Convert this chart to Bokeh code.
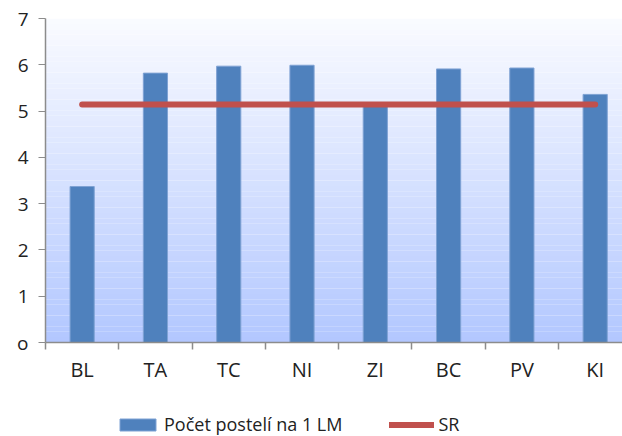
from bokeh.plotting import figure
from bokeh.layouts import column
from bokeh.models import FixedTicker, Range1d, Legend, LegendItem, ColumnDataSource
from bokeh.embed import file_html
from bokeh.resources import INLINE

categories = ["BL", "TA", "TC", "NI", "ZI", "BC", "PV", "KI"]
beds_per_lm = [3.37, 5.82, 5.97, 5.99, 5.12, 5.91, 5.93, 5.36]
sr_value = 5.14
y_ticks = [0, 1, 2, 3, 4, 5, 6, 7]
series_names = ["Počet postelí na 1 LM", "SR"]

FONT = "Open Sans"
BAR_COLOR = "#4f81bd"
BAR_EDGE = "#7fa2d4"
SR_COLOR = "#c0504d"
n = len(categories)
FW = 577
x_end = FW / 73.29

p = figure(frame_width=FW, frame_height=324, output_backend="svg", toolbar_location=None,
           x_range=Range1d(0, x_end), y_range=Range1d(0, 7),
           min_border_left=45, min_border_top=18, min_border_right=0, min_border_bottom=48)
p.outline_line_color = None
p.background_fill_color = "white"
p.border_fill_color = "white"

# background gradient bands
nb = 60
top_c = (250, 251, 255)
bot_c = (178, 199, 255)
bands_b, bands_t, cols = [], [], []
for i in range(nb):
    f = (i + 0.5) / nb
    c = tuple(int(round(bot_c[k] + (top_c[k] - bot_c[k]) * f)) for k in range(3))
    bands_b.append(7 * i / nb)
    bands_t.append(7 * (i + 1) / nb + 0.001)
    cols.append("#%02x%02x%02x" % c)
p.quad(left=0, right=x_end, bottom=bands_b, top=bands_t, fill_color=cols, line_color=None)

p.xgrid.visible = False
p.ygrid.grid_line_color = "#8c8c8c"
p.ygrid.grid_line_width = 1
p.ygrid.ticker = FixedTicker(ticks=y_ticks)
p.ygrid.level = "image"

xs = [i + 0.5 for i in range(n)]
src = ColumnDataSource(dict(x=xs, top=beds_per_lm))
sr_src = ColumnDataSource(dict(x=[xs[0], xs[-1]], y=[sr_value, sr_value]))
p.vbar(x="x", top="top", width=0.33, bottom=0, source=src,
       fill_color=BAR_COLOR, line_color=BAR_EDGE, line_width=1)
p.line(x="x", y="y", source=sr_src, line_color=SR_COLOR, line_width=6, line_cap="round")

# axes
p.yaxis.ticker = FixedTicker(ticks=y_ticks)
p.yaxis.axis_line_color = "#8c8c8c"
p.yaxis.axis_line_width = 1.5
p.yaxis.major_tick_line_color = "#8c8c8c"
p.yaxis.major_tick_out = 7
p.yaxis.major_tick_in = 0
p.yaxis.minor_tick_line_color = None
p.yaxis.major_label_text_font = FONT
p.yaxis.major_label_text_font_size = "19px"
p.yaxis.major_label_text_color = "#222222"
p.yaxis.major_label_standoff = 10
p.yaxis.major_label_overrides = {0: "o"}

p.xaxis.ticker = FixedTicker(ticks=xs, minor_ticks=list(range(n + 1)))
p.xaxis.major_label_overrides = {x: c for x, c in zip(xs, categories)}
p.xaxis.axis_line_color = "#8c8c8c"
p.xaxis.axis_line_width = 1.5
p.xaxis.major_tick_line_color = None
p.xaxis.major_tick_out = 7
p.xaxis.major_tick_in = 0
p.xaxis.minor_tick_line_color = "#8c8c8c"
p.xaxis.minor_tick_line_width = 1.5
p.xaxis.minor_tick_out = 7
p.xaxis.minor_tick_in = 0
p.xaxis.major_label_text_font = FONT
p.xaxis.major_label_text_font_size = "20px"
p.xaxis.major_label_text_color = "#222222"
p.xaxis.major_label_standoff = 6

# legend strip below the chart (same data sources, ranges chosen so nothing is drawn in the strip)
q = figure(width=622, height=46, output_backend="svg", toolbar_location=None,
           x_range=Range1d(-20, -19), y_range=Range1d(-20, -19),
           x_axis_location=None, y_axis_location=None,
           min_border_left=0, min_border_right=0, min_border_top=0, min_border_bottom=0)
q.outline_line_color = None
q.grid.visible = False
q.background_fill_color = "white"
q.border_fill_color = "white"
lb = q.vbar(x="x", top="top", width=0.33, bottom=0, source=src,
            fill_color=BAR_COLOR, line_color=BAR_EDGE, line_width=1)
ll = q.line(x="x", y="y", source=sr_src, line_color=SR_COLOR, line_width=6, line_cap="round")

legend = Legend(items=[LegendItem(label=series_names[0], renderers=[lb]),
                       LegendItem(label=series_names[1], renderers=[ll])],
                orientation="horizontal", location=(70, 0))
legend.label_text_font = FONT
legend.label_text_font_size = "18px"
legend.label_text_color = "#222222"
legend.glyph_width = 45
legend.glyph_height = 15
legend.spacing = 47
legend.label_standoff = 4
legend.border_line_color = None
legend.background_fill_alpha = 0
legend.padding = 0
legend.margin = 0
q.add_layout(legend, "center")

layout = column(p, q, spacing=0)
open("out.html", "w").write(file_html(layout, INLINE))
